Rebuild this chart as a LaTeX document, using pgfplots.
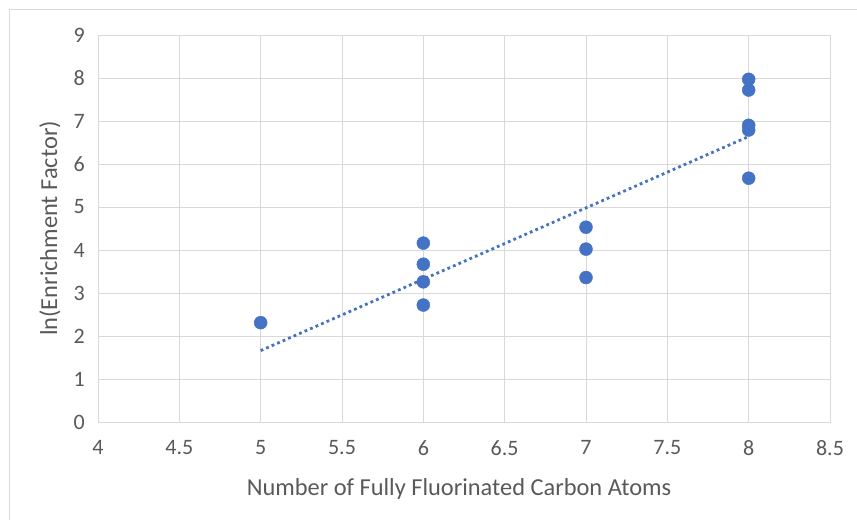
\documentclass[border=0pt]{standalone}
\usepackage{pgfplots}
\pgfplotsset{compat=1.18}
\usepackage{fontspec}
\setmainfont{Carlito}
\definecolor{mblue}{HTML}{4472C4}
\definecolor{gridc}{HTML}{D9D9D9}
\definecolor{txt}{HTML}{595959}
\begin{document}
\begin{tikzpicture}
\useasboundingbox (-98bp,-98bp) rectangle (759bp,422bp);
\draw[gridc, line width=1bp] (-88bp,-98bp) -- (-88bp,412bp) -- (759bp,412bp);
\begin{axis}[
  at={(0,0)}, anchor=south west,
  scale only axis, width=732bp, height=387bp,
  xmin=4, xmax=8.5, ymin=0, ymax=9,
  xtick={4,4.5,...,8.5}, ytick={0,1,...,9},
  grid=major, major grid style={gridc, line width=0.8bp},
  axis line style={gridc, line width=0.8bp},
  major tick length=0pt,
  tick label style={font=\fontsize{22bp}{24bp}\selectfont, text=txt, inner sep=0pt},
  /pgf/number format/assume math mode=true,
  xticklabel style={anchor=north, yshift=-18bp},
  yticklabel style={anchor=east, xshift=-13bp},
  xlabel={Number of Fully Fluorinated Carbon Atoms},
  ylabel={ln(Enrichment Factor)},
  label style={font=\fontsize{24.4bp}{27bp}\selectfont, text=txt, inner sep=0pt},
  xlabel style={at={(axis description cs:0.5,0)}, anchor=base, yshift=-73bp, xshift=-5bp},
  ylabel style={at={(axis description cs:-0.0656,0.5)}, anchor=center},
  clip=false,
]
\addplot[mblue, line width=2.8bp, dash pattern=on 2.8bp off 3.2bp] coordinates {(5,1.66) (8,6.64)};
\addplot[only marks, mark=*, mark size=6.5bp, mark options={fill=mblue, draw=mblue}] coordinates {
(5,2.31)
(6,4.16) (6,3.67) (6,3.26) (6,2.72)
(7,4.53) (7,4.02) (7,3.36)
(8,7.97) (8,7.72) (8,6.90) (8,6.79) (8,5.67)
};
\end{axis}
\end{tikzpicture}
\end{document}
